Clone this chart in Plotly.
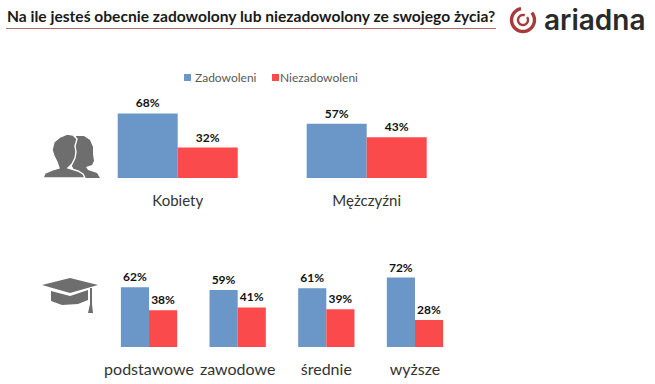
import math
import plotly.graph_objects as go
from plotly.subplots import make_subplots

W, H = 655, 384
series_names = ["Zadowoleni", "Niezadowoleni"]
gender_labels = ["Kobiety", "Mężczyźni"]
gender_yes = [68, 57]
gender_no = [32, 43]
edu_labels = ["podstawowe", "zawodowe", "średnie", "wyższe"]
edu_yes = [62, 59, 61, 72]
edu_no = [38, 41, 39, 28]
title_text = "Na ile jesteś obecnie zadowolony lub niezadowolony ze swojego życia?"
BLUE, RED = "#6a96c8", "#fb4a4c"
FONT = "Lato"

def px(x): return x / W
def py(y): return 1 - y / H

fig = make_subplots(rows=2, cols=1)
def add(row, cats, yes, no):
    for name, vals, col in ((series_names[0], yes, BLUE), (series_names[1], no, RED)):
        fig.add_trace(go.Bar(
            x=cats, y=vals, name=name, marker_color=col, marker_line_width=0,
            text=[f"{v}%" for v in vals], textposition="outside", cliponaxis=False,
            textfont=dict(family=FONT, size=12, color="#111111", weight="bold"),
            showlegend=False), row=row, col=1)
add(1, gender_labels, gender_yes, gender_no)
add(2, edu_labels, edu_yes, edu_no)

def arc(cx, cy, r, a0, a1, width):
    pts = []
    n = 30
    for i in range(n + 1):
        a = math.radians(a0 + (a1 - a0) * i / n)
        pts.append((cx + (r + width / 2) * math.cos(a), cy - (r + width / 2) * math.sin(a)))
    for i in range(n, -1, -1):
        a = math.radians(a0 + (a1 - a0) * i / n)
        pts.append((cx + (r - width / 2) * math.cos(a), cy - (r - width / 2) * math.sin(a)))
    return pts

def path(pts):
    return "M" + " L".join(f"{px(x):.4f},{py(y):.4f}" for x, y in pts) + " Z"

def blob(pts, col, outline=None):
    line = dict(width=1.4, color=outline) if outline else dict(width=0)
    return dict(type="path", xref="paper", yref="paper", path=path(pts), fillcolor=col, line=line)

def square(x, y, col):
    return dict(type="rect", xref="paper", yref="paper", x0=px(x), x1=px(x + 7), y0=py(y + 7), y1=py(y),
                fillcolor=col, line=dict(width=0))

GREY = "#6e6e6e"
LOGO = "#a83b3a"
shapes = [
    dict(type="line", xref="paper", yref="paper", x0=px(6), x1=px(496), y0=py(28.5), y1=py(28.5),
         line=dict(color="#b56a6a", width=1.2)),
    blob(arc(523, 20, 11.5, 100, 400, 3.4), LOGO),
    blob(arc(523, 20, 5, 70, 395, 2.4), LOGO),
    square(184, 74, BLUE),
    square(272, 74, RED),
    # back figure
    blob([(76,136),(84,136),(90,140),(93,147),(93,154),(94,161),(92,165),(86,167),(88,170),(97,173),(100,178),(78,178),(72,166)], GREY),
    # front figure
    blob([(52,150),(54,142),(60,137),(67,134),(73,135),(77,139),(75,146),(76,152),(75,158),(72,164),(68,168),
          (78,171),(83,174),(85,178),(43,178),(45,173),(52,170),(59,168),(57,162),(54,156)], GREY, "white"),
    # graduation cap
    blob([(42,285),(70,278),(98,285),(70,293)], GREY),
    blob([(51,291),(70,296),(88,290),(88,300),(78,304),(62,305),(51,301)], GREY),
    blob([(90,288),(92,288),(92,304),(93,313),(88,313),(90,304)], GREY),
]

legend_font = dict(family=FONT, size=12, color="#595959")
annotations = [
    dict(text="ariadna", xref="paper", yref="paper", x=px(542), y=py(20), xanchor="left", yanchor="middle",
         showarrow=False, font=dict(family="Inter", size=28, color="#2a2a2a", weight=600)),
    dict(text=series_names[0], xref="paper", yref="paper", x=px(193), y=py(77.5), xanchor="left", yanchor="middle",
         showarrow=False, font=legend_font),
    dict(text=series_names[1], xref="paper", yref="paper", x=px(278), y=py(77.5), xanchor="left", yanchor="middle",
         showarrow=False, font=legend_font),
]

fig.update_layout(
    width=W, height=H, margin=dict(l=0, r=0, t=0, b=0), autosize=False,
    paper_bgcolor="white", plot_bgcolor="white",
    barmode="group", bargap=0.365, bargroupgap=0, showlegend=False,
    title=dict(text=title_text, x=px(7), xanchor="left", xref="paper", y=py(17), yanchor="middle",
               font=dict(family=FONT, size=15.6, color="#1a1a1a", weight="bold")),
    shapes=shapes, annotations=annotations,
)
for row, dom_x, dom_y, size, tlen in ((1, (83.2, 461.2), (178, 83), 15, 9), (2, (104.7, 459.3), (347, 250.5), 16, 8)):
    fig.update_xaxes(domain=[px(dom_x[0]), px(dom_x[1])], showgrid=False, zeroline=False, showline=False,
                     ticks="outside", ticklen=tlen, tickcolor="rgba(0,0,0,0)",
                     tickfont=dict(family=FONT, size=size, color="#333333"), row=row, col=1)
    fig.update_yaxes(domain=[py(dom_y[0]), py(dom_y[1])], range=[0, 100], visible=False, row=row, col=1)

fig.write_html("out.html", config=dict(displayModeBar=False),
               post_script="document.body.style.margin='0';document.body.style.overflow='hidden';")
